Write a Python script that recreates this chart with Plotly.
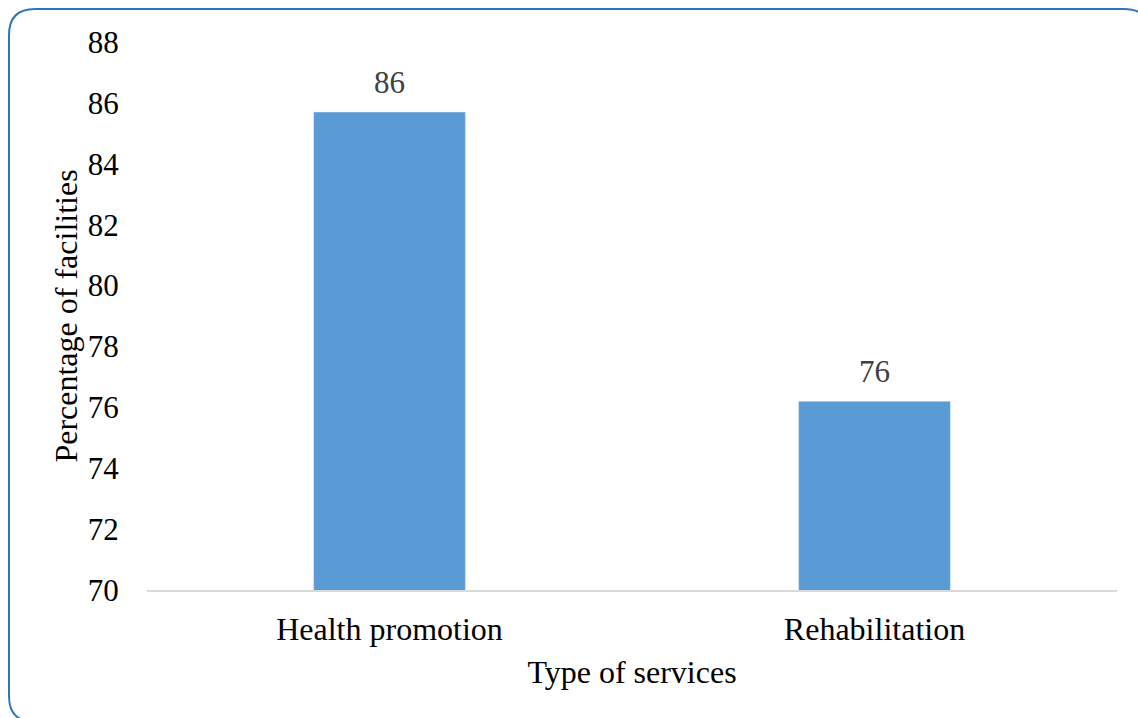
import plotly.graph_objects as go

categories = ["Health promotion", "Rehabilitation"]
values = [85.7, 76.2]
value_labels = ["86", "76"]
y_ticks = [70, 72, 74, 76, 78, 80, 82, 84, 86, 88]

W, H = 1138, 718
L, R, T, B = 147, 21, 42, 128
pw = W - L - R
ph = H - T - B

def px(x):
    return (x - L) / pw

def py(y):
    return (H - B - y) / ph

# rounded border path (pixel coords converted to paper)
x0, y0, x1, y1, r = 9, 9, 1150, 722, 26
pts = [
    ("M", [(x0 + r, y0)]),
    ("L", [(x1 - r, y0)]),
    ("Q", [(x1, y0), (x1, y0 + r)]),
    ("L", [(x1, y1 - r)]),
    ("Q", [(x1, y1), (x1 - r, y1)]),
    ("L", [(x0 + r, y1)]),
    ("Q", [(x0, y1), (x0, y1 - r)]),
    ("L", [(x0, y0 + r)]),
    ("Q", [(x0, y0), (x0 + r, y0)]),
]
path = ""
for cmd, ps in pts:
    path += cmd + " " + " ".join(f"{px(a):.5f},{py(b):.5f}" for a, b in ps) + " "
path += "Z"

FONT = "Liberation Serif"

fig = go.Figure(
    go.Bar(
        x=categories,
        y=values,
        marker=dict(color="#5b9bd5"),
        hoverinfo="x+y",
    )
)

annotations = [
    dict(x=c, y=v, text=t, xref="x", yref="y", showarrow=False,
         yanchor="bottom", yshift=10,
         font=dict(family=FONT, size=31, color="#404040"))
    for c, v, t in zip(categories, values, value_labels)
]

fig.update_layout(
    width=W,
    height=H,
    margin=dict(l=L, r=R, t=T, b=B),
    paper_bgcolor="white",
    plot_bgcolor="white",
    bargap=0.687,
    showlegend=False,
    font=dict(family=FONT, size=31, color="black"),
    annotations=annotations,
    shapes=[
        dict(
            type="path",
            path=path,
            xref="paper",
            yref="paper",
            line=dict(color="#2e75b6", width=2),
            fillcolor="rgba(0,0,0,0)",
            layer="above",
        )
    ],
)

fig.update_xaxes(
    showline=True,
    linecolor="#d9d9d9",
    linewidth=1.5,
    showgrid=False,
    ticks="outside",
    ticklen=10,
    tickcolor="rgba(0,0,0,0)",
    tickfont=dict(family=FONT, size=32, color="black"),
    title=dict(text="Type of services", standoff=14,
               font=dict(family=FONT, size=32, color="black")),
)

fig.update_yaxes(
    range=[70, 88],
    tickvals=y_ticks,
    showline=False,
    showgrid=False,
    zeroline=False,
    ticks="outside",
    ticklen=21,
    tickcolor="rgba(0,0,0,0)",
    tickfont=dict(family=FONT, size=31, color="black"),
    title=dict(text="Percentage of facilities", standoff=0,
               font=dict(family=FONT, size=32, color="black")),
)

fig.write_html(
    "out.html",
    config={"displayModeBar": False},
    post_script="document.body.style.margin='0';document.body.style.overflow='hidden';",
)
